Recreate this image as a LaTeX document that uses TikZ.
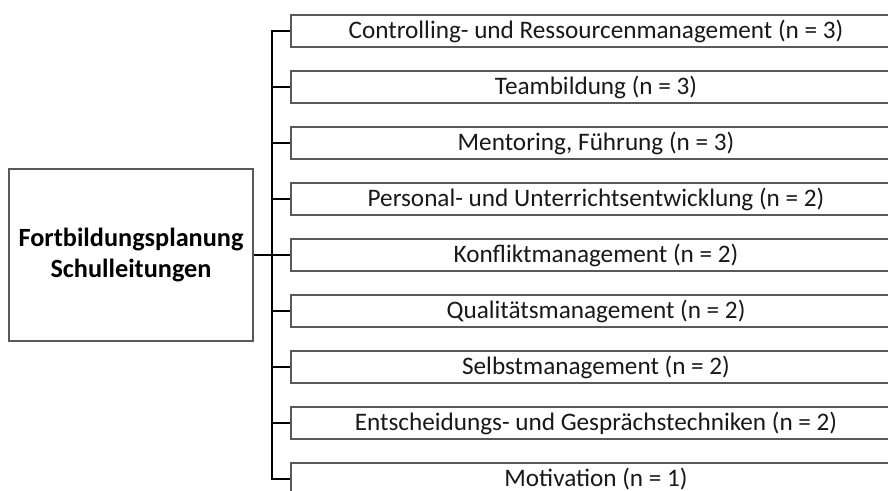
\documentclass[tikz,border=0pt]{standalone}
\usepackage{fontspec}
\setmainfont{Carlito}
\usetikzlibrary{shadows}
\begin{document}
\begin{tikzpicture}[x=0.75pt,y=-0.75pt,
  boxstyle/.style={draw=black!65, line width=1.1pt, fill=white, inner sep=0pt,
    drop shadow={shadow xshift=0.4pt, shadow yshift=-0.9pt, opacity=0.35, fill=black!60}},
  item/.style={boxstyle, minimum width=457.5pt, minimum height=24pt, text=black!90,
    font=\fontsize{18.9}{22}\selectfont},
  rootbox/.style={boxstyle, minimum width=183pt, minimum height=129pt, align=center,
    font=\fontsize{19.7}{23.5}\selectfont\bfseries},
  conn/.style={draw=black, line width=1.8pt}]
\useasboundingbox (0,0) rectangle (888,490);
\clip (0,0) rectangle (888,490);
\node[rootbox] (root) at (131,255) {Fortbildungsplanung\\Schulleitungen};
\node[item] (c1) at (596,31)  {Controlling- und Ressourcenmanagement (n = 3)};
\node[item] (c2) at (596,87)  {Teambildung (n = 3)};
\node[item] (c3) at (596,143) {Mentoring, Führung (n = 3)};
\node[item] (c4) at (596,199) {Personal- und Unterrichtsentwicklung (n = 2)};
\node[item] (c5) at (596,255) {Konfliktmanagement (n = 2)};
\node[item] (c6) at (596,311) {Qualitätsmanagement (n = 2)};
\node[item] (c7) at (596,367) {Selbstmanagement (n = 2)};
\node[item] (c8) at (596,423) {Entscheidungs- und Gesprächstechniken (n = 2)};
\node[item] (c9) at (596,479) {Motivation (n = 1)};
\coordinate (j) at (272,255);
\draw[conn] (root.east) -- (j);
\draw[conn, line cap=rect] (j |- c1.west) -- (j |- c9.west);
\foreach \i in {1,...,9} {
  \draw[conn] (j |- c\i.west) -- (c\i.west);
}
\end{tikzpicture}
\end{document}
